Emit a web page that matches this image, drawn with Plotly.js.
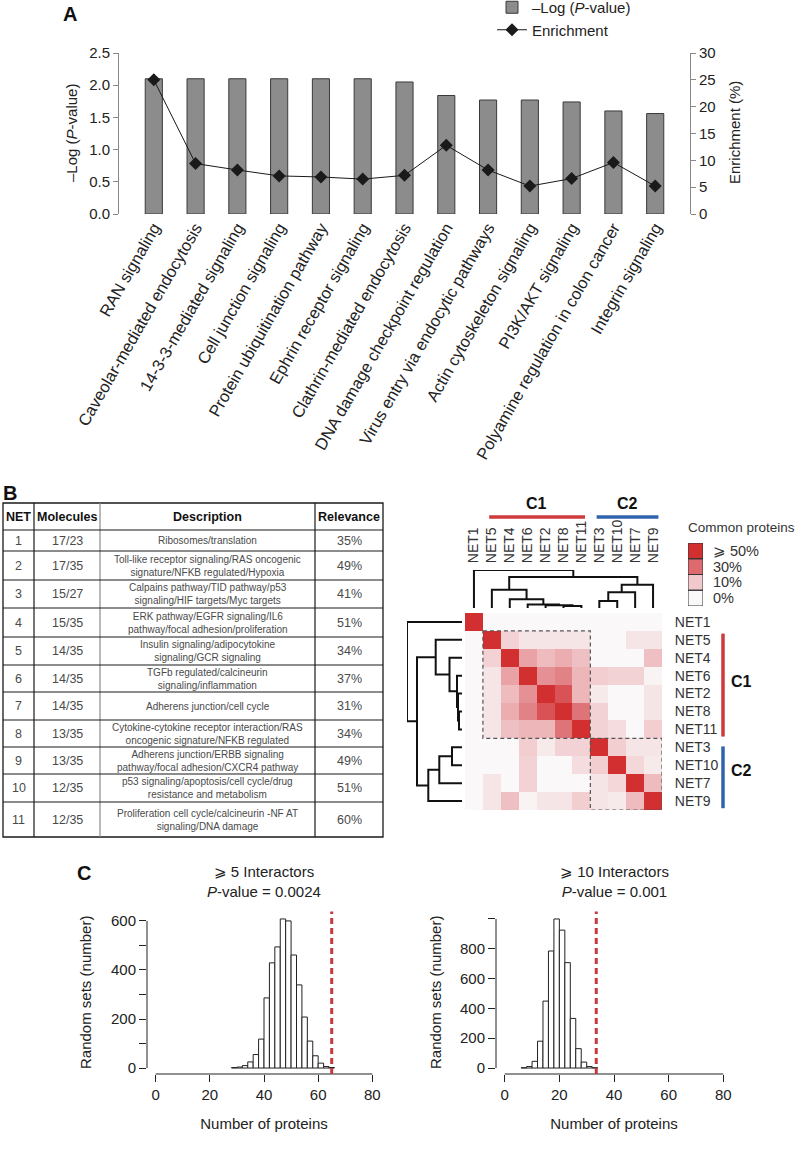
<!DOCTYPE html>
<html><head><meta charset="utf-8">
<script src="https://cdn.plot.ly/plotly-3.0.1.min.js"></script>
<style>html,body{margin:0;padding:0;background:#fff;}#chart{width:798px;height:1152px;}</style>
</head><body><div id="chart"></div>
<script>
// ---------------- Panel A data ----------------
const pathways = ['RAN signaling','Caveolar-mediated endocytosis','14-3-3-mediated signaling','Cell junction signaling','Protein ubiquitination pathway','Ephrin receptor signaling','Clathrin-mediated endocytosis','DNA damage checkpoint regulation','Virus entry via endocytic pathways','Actin cytoskeleton signaling','PI3K/AKT signaling','Polyamine regulation in colon cancer','Integrin signaling'];
const negLogP = [2.1,2.1,2.1,2.1,2.1,2.1,2.05,1.84,1.77,1.77,1.74,1.6,1.56];
const enrichmentPct = [25,9.4,8.2,7.1,6.9,6.5,7.2,12.8,8.2,5.2,6.6,9.6,5.2];

// ---------------- Panel B table ----------------
const tableHeader = ['NET','Molecules','Description','Relevance'];
const netIds = ['1','2','3','4','5','6','7','8','9','10','11'];
const molecules = ['17/23','17/35','15/27','15/35','14/35','14/35','14/35','13/35','13/35','12/35','12/35'];
const descriptions = ['Ribosomes/translation','Toll-like receptor signaling/RAS oncogenic<br>signature/NFKB regulated/Hypoxia','Calpains pathway/TID pathway/p53<br>signaling/HIF targets/Myc targets','ERK pathway/EGFR signaling/IL6<br>pathway/focal adhesion/proliferation','Insulin signaling/adipocytokine<br>signaling/GCR signaling','TGFb regulated/calcineurin<br>signaling/inflammation','Adherens junction/cell cycle','Cytokine-cytokine receptor interaction/RAS<br>oncogenic signature/NFKB regulated','Adherens junction/ERBB signaling<br>pathway/focal adhesion/CXCR4 pathway','p53 signaling/apoptosis/cell cycle/drug<br>resistance and metabolism','Proliferation cell cycle/calcineurin -NF AT<br>signaling/DNA damage'];
const relevance = ['35%','49%','41%','51%','34%','37%','31%','34%','49%','51%','60%'];

// ---------------- Panel B heatmap ----------------
const netOrder = ['NET1','NET5','NET4','NET6','NET2','NET8','NET11','NET3','NET10','NET7','NET9'];
const commonProteins = [
  [100,0,0,0,0,0,0,0,0,0,0],
  [0,100,8,4,4,4,4,0,0,4,4],
  [0,8,100,18,13,16,12,0,0,0,12],
  [0,4,18,100,22,25,14,9,8,8,1],
  [0,4,13,22,100,38,14,3,0,0,4],
  [0,4,16,25,38,100,28,8,0,0,4],
  [0,4,12,14,14,28,100,8,6,0,9],
  [0,0,0,9,3,8,8,100,9,4,4],
  [0,0,0,8,0,0,6,9,100,7,3],
  [0,4,0,8,0,0,0,4,7,100,13],
  [0,4,12,1,4,4,9,4,3,13,100]
];
// dendrogram merges: [child A, child B, height]; '#k' = k-th merge
const dendroMerges = [
  ['NET8','NET11',3],
  ['NET2','#0',4],
  ['NET6','#1',5],
  ['NET4','#2',12.5],
  ['NET5','#3',26.3],
  ['NET3','NET10',10],
  ['#5','NET7',22.7],
  ['#6','NET9',33.7],
  ['#4','#7',45],
  ['NET1','#8',55]
];
const legendLevels = [50,30,10,0];
const legendLabels = ['⩾ 50%','30%','10%','0%'];

// ---------------- Panel C data ----------------
const binWidth = 2;
const binLeft5 = [28,30,32,34,36,38,40,42,44,46,48,50,52,54,56,58,60,62,64];
const count5   = [2,4,10,25,55,118,286,429,494,608,600,461,339,208,110,50,20,6,2];
const observed5 = 65;
const binLeft10 = [6,8,10,12,14,16,18,20,22,24,26,28,30,32];
const count10   = [2,10,45,180,449,785,1000,925,707,333,130,40,10,2];
const observed10 = 33.5;

// ---------------- helpers / layout constants ----------------
const W = 798, H = 1152;
const px = x => x / W;
const py = y => 1 - y / H;
const FONT = 'Liberation Sans, Arial, Helvetica, sans-serif';
const colEdgesPx = [3,34,100,315,383];
const rowEdgesPx = [503,530,551,580,608,637,665,692,720,747,774,802,837];

function dendroSegments(order, merges) {
  const pos = {}, hgt = {};
  order.forEach((n, i) => { pos[n] = i; hgt[n] = 0; });
  const a = [], h = [];
  merges.forEach((m, k) => {
    const [c1, c2, ht] = m;
    a.push(pos[c1], pos[c1], pos[c2], pos[c2], null);
    h.push(hgt[c1], ht, ht, hgt[c2], null);
    pos['#' + k] = (pos[c1] + pos[c2]) / 2;
    hgt['#' + k] = ht;
  });
  return {a, h};
}
const dseg = dendroSegments(netOrder, dendroMerges);
const dMax = Math.max(...dendroMerges.map(m => m[2]));

const traces = [];
// Panel A
traces.push({type:'bar', x:pathways, y:negLogP, name:'–Log (<i>P</i>-value)', xaxis:'x', yaxis:'y',
  marker:{color:'#8c8c8c', line:{color:'#3a3a3a', width:1}}});
traces.push({type:'scatter', mode:'lines+markers', x:pathways, y:enrichmentPct, name:'Enrichment', xaxis:'x', yaxis:'y2',
  line:{color:'#1a1a1a', width:1}, marker:{symbol:'diamond', size:10, color:'#1a1a1a'}});
// heatmap
const cscale = [[0,'#faf8f8'],[0.2,'#f1c9cc'],[0.6,'#dc6a6f'],[1,'#d22f30']];
traces.push({type:'heatmap', x:netOrder, y:netOrder, z:commonProteins, zmin:0, zmax:50,
  colorscale:cscale, showscale:false, xaxis:'x3', yaxis:'y3', hoverinfo:'skip', showlegend:false});
traces.push({type:'scatter', mode:'lines', x:dseg.a, y:dseg.h, xaxis:'x4', yaxis:'y4',
  line:{color:'#111', width:2}, showlegend:false, hoverinfo:'skip'});
traces.push({type:'scatter', mode:'lines', x:dseg.h, y:dseg.a, xaxis:'x5', yaxis:'y5',
  line:{color:'#111', width:2}, showlegend:false, hoverinfo:'skip'});
traces.push({type:'heatmap', x:['k'], y:legendLabels, z:legendLevels.map(v => [v]), zmin:0, zmax:50,
  colorscale:cscale, showscale:false, xaxis:'x6', yaxis:'y6', hoverinfo:'skip', showlegend:false});
// Panel C histograms
traces.push({type:'bar', x:binLeft5.map(b => b + binWidth/2), y:count5, width:binWidth, xaxis:'x7', yaxis:'y7',
  marker:{color:'#fff', line:{color:'#222', width:1}}, showlegend:false});
traces.push({type:'bar', x:binLeft10.map(b => b + binWidth/2), y:count10, width:binWidth, xaxis:'x8', yaxis:'y8',
  marker:{color:'#fff', line:{color:'#222', width:1}}, showlegend:false});

const max5 = Math.max(...count5), max10 = Math.max(...count10);
const tickF = {family:FONT, size:15, color:'#222'};
const heatX = [px(465), px(662)], heatY = [py(810), py(613)];
const histY = [py(1074), py(913)];

const layout = {
  width:W, height:H, margin:{l:0,r:0,t:0,b:0,autoexpand:false}, paper_bgcolor:'#fff', plot_bgcolor:'rgba(0,0,0,0)',
  font:{family:FONT, color:'#222'}, bargap:0.59, showlegend:true,
  legend:{x:px(492), y:py(-9), xanchor:'left', yanchor:'top', font:{family:FONT, size:15, color:'#222'},
    bgcolor:'rgba(0,0,0,0)', itemwidth:30, tracegroupgap:0},
  xaxis:{domain:[px(119), px(690)], anchor:'y', tickangle:-60, tickfont:{family:FONT, size:16.5, color:'#222'},
    showline:false, ticks:'', showgrid:false, zeroline:false},
  yaxis:{domain:[py(214), py(53)], range:[0,2.5], dtick:0.5, tickformat:'.1f', ticks:'outside', ticklen:5,
    tickcolor:'#888', showline:true, linecolor:'#888', showgrid:false, zeroline:false, tickfont:tickF},
  yaxis2:{overlaying:'y', side:'right', anchor:'x', range:[0,30], dtick:5, ticks:'outside', ticklen:5,
    tickcolor:'#888', showline:true, linecolor:'#888', showgrid:false, zeroline:false, tickfont:tickF},
  xaxis3:{domain:heatX, anchor:'y3', showticklabels:false, ticks:'', showgrid:false, zeroline:false, range:[-0.5,10.5]},
  yaxis3:{domain:heatY, anchor:'x3', side:'right', range:[10.5,-0.5], ticks:'outside', ticklen:9, tickcolor:'rgba(0,0,0,0)',
    tickfont:{family:FONT, size:14, color:'#333'}, showgrid:false, zeroline:false},
  xaxis4:{domain:heatX, anchor:'y4', range:[-0.5,10.5], side:'top', tickmode:'array', tickvals:netOrder.map((n,i)=>i),
    ticktext:netOrder, tickangle:-90, ticks:'outside', ticklen:3, tickcolor:'rgba(0,0,0,0)',
    tickfont:{family:FONT, size:14, color:'#333'}, showgrid:false, zeroline:false, showline:false},
  yaxis4:{domain:[py(608), py(570)], anchor:'x4', range:[0, dMax], visible:false},
  xaxis5:{domain:[px(407), px(462)], anchor:'y5', range:[dMax, 0], visible:false},
  yaxis5:{domain:heatY, anchor:'x5', range:[10.5,-0.5], visible:false},
  xaxis6:{domain:[px(688), px(703)], anchor:'y6', type:'category', visible:false, range:[-0.5,0.5]},
  yaxis6:{domain:[py(606), py(543)], anchor:'x6', type:'category', side:'right', range:[3.5,-0.5],
    tickmode:'array', tickvals:legendLabels, ticktext:legendLabels, ticks:'outside', ticklen:6,
    tickcolor:'rgba(0,0,0,0)', tickfont:{family:FONT, size:14.5, color:'#333'}, showgrid:false, zeroline:false},
  xaxis7:{domain:[px(147), px(381)], anchor:'y7', range:[-3.2,83.2], tickvals:[0,20,40,60,80], ticks:'outside', ticklen:7,
    tickcolor:'#222', showline:false, showgrid:false, zeroline:false, tickfont:tickF,
    title:{text:'Number of proteins', font:{family:FONT, size:15, color:'#222'}}},
  yaxis7:{domain:histY, anchor:'x7', range:[-0.04*max5, 1.04*max5], tickvals:[0,100,200,300,400,500,600],
    ticktext:['0','','200','','400','','600'], ticks:'outside', ticklen:7, tickcolor:'#222', showline:false,
    showgrid:false, zeroline:false, tickfont:tickF},
  xaxis8:{domain:[px(496), px(732)], anchor:'y8', range:[-3.2,83.2], tickvals:[0,20,40,60,80], ticks:'outside', ticklen:7,
    tickcolor:'#222', showline:false, showgrid:false, zeroline:false, tickfont:tickF,
    title:{text:'Number of proteins', font:{family:FONT, size:15, color:'#222'}}},
  yaxis8:{domain:histY, anchor:'x8', range:[-0.04*max10, 1.04*max10], tickvals:[0,200,400,600,800,1000],
    ticktext:['0','200','400','600','800',''], ticks:'outside', ticklen:7, tickcolor:'#222', showline:false,
    showgrid:false, zeroline:false, tickfont:tickF},
  shapes:[], annotations:[]
};

const ann = (text, x, y, opts) => Object.assign({text, x, y, xref:'paper', yref:'paper', showarrow:false,
  xanchor:'center', yanchor:'middle', font:{family:FONT, size:15, color:'#222'}}, opts || {});

// ---------- table (grid + text) ----------
const tTop = rowEdgesPx[0], tBot = rowEdgesPx[rowEdgesPx.length-1];
layout.shapes.push({type:'rect', xref:'paper', yref:'paper', x0:px(colEdgesPx[0]), x1:px(colEdgesPx[4]), y0:py(tBot), y1:py(tTop), line:{color:'#1a1a1a', width:1.3}});
colEdgesPx.slice(1, -1).forEach((c, i) => layout.shapes.push({type:'line', xref:'paper', yref:'paper', x0:px(c), x1:px(c), y0:py(tBot), y1:py(tTop), line:{color: i === 1 ? '#8a8a8a' : '#1a1a1a', width:1.2}}));
rowEdgesPx.slice(1, -1).forEach(r => layout.shapes.push({type:'line', xref:'paper', yref:'paper', x0:px(colEdgesPx[0]), x1:px(colEdgesPx[4]), y0:py(r), y1:py(r), line:{color:'#1a1a1a', width:1.1}}));
const colCenter = i => px((colEdgesPx[i] + colEdgesPx[i+1]) / 2);
const rowCenter = r => py((rowEdgesPx[r] + rowEdgesPx[r+1]) / 2);
tableHeader.forEach((t, i) => layout.annotations.push(ann('<b>' + t + '</b>', colCenter(i), rowCenter(0), {font:{family:FONT, size:12.5, color:'#111'}})));
const tableCols = [netIds, molecules, descriptions, relevance];
const tableFont = [12.5, 12.5, 10, 12.5];
tableCols.forEach((col, ci) => col.forEach((v, ri) => layout.annotations.push(ann(v, colCenter(ci), rowCenter(ri+1), {font:{family:FONT, size:tableFont[ci], color:'#4a4a4a'}}))));

// dashed cluster boxes
layout.shapes.push({type:'rect', xref:'x3', yref:'y3', x0:0.5, x1:6.5, y0:0.5, y1:6.5, line:{color:'#555', width:1.2, dash:'4px,3px'}});
layout.shapes.push({type:'rect', xref:'x3', yref:'y3', x0:6.5, x1:10.5, y0:6.5, y1:10.5, line:{color:'#555', width:1.2, dash:'4px,3px'}});
// cluster bars
const red = '#cf3a3c', blue = '#2f63ad';
layout.shapes.push({type:'line', xref:'x3', yref:'paper', x0:0.85, x1:6.2, y0:py(517), y1:py(517), line:{color:red, width:3.5}});
layout.shapes.push({type:'line', xref:'x3', yref:'paper', x0:6.85, x1:10.3, y0:py(517), y1:py(517), line:{color:blue, width:3.5}});
layout.shapes.push({type:'line', xref:'paper', yref:'y3', x0:px(723), x1:px(723), y0:0.65, y1:6.4, line:{color:red, width:3.5}});
layout.shapes.push({type:'line', xref:'paper', yref:'y3', x0:px(723), x1:px(723), y0:6.95, y1:10.4, line:{color:blue, width:3.5}});
// legend box outlines
legendLevels.forEach((v, i) => layout.shapes.push({type:'rect', xref:'x6', yref:'y6', x0:-0.5, x1:0.5, y0:i-0.5, y1:i+0.5, line:{color:'#333', width:1}}));
// histogram axis lines (R style) and observed values
[['x7','y7',600],['x8','y8',1000]].forEach(([xa, ya, top]) => {
  layout.shapes.push({type:'line', xref:xa, yref:ya + ' domain', x0:0, x1:80, y0:0, y1:0, line:{color:'#222', width:1}});
  layout.shapes.push({type:'line', xref:xa + ' domain', yref:ya, x0:0, x1:0, y0:0, y1:top, line:{color:'#222', width:1}});
});
layout.shapes.push({type:'line', xref:'x7', yref:'y7 domain', x0:observed5, x1:observed5, y0:0, y1:1.01, line:{color:'#c9383b', width:3, dash:'6px,4px'}});
layout.shapes.push({type:'line', xref:'x8', yref:'y8 domain', x0:observed10, x1:observed10, y0:0, y1:1.01, line:{color:'#c9383b', width:3, dash:'6px,4px'}});

// annotations
layout.annotations.push(ann('<b>A</b>', px(70), py(14), {font:{family:FONT, size:20, color:'#111'}}));
layout.annotations.push(ann('<b>B</b>', px(10), py(493), {font:{family:FONT, size:20, color:'#111'}}));
layout.annotations.push(ann('<b>C</b>', px(84), py(873), {font:{family:FONT, size:20, color:'#111'}}));
layout.annotations.push(ann('–Log (<i>P</i>-value)', px(72), py(133), {textangle:-90}));
layout.annotations.push(ann('Enrichment (%)', px(735), py(133), {textangle:-90}));
layout.annotations.push(ann('<b>C1</b>', 3.5, py(503), {xref:'x3', font:{family:FONT, size:16, color:'#111'}}));
layout.annotations.push(ann('<b>C2</b>', 8.55, py(503), {xref:'x3', font:{family:FONT, size:16, color:'#111'}}));
layout.annotations.push(ann('<b>C1</b>', px(729), 3.3, {yref:'y3', xanchor:'left', font:{family:FONT, size:16, color:'#111'}}));
layout.annotations.push(ann('<b>C2</b>', px(729), 8.3, {yref:'y3', xanchor:'left', font:{family:FONT, size:16, color:'#111'}}));
layout.annotations.push(ann('Common proteins', px(686), py(528), {xanchor:'left', font:{family:FONT, size:13.5, color:'#333'}}));
layout.annotations.push(ann('⩾ 5 Interactors<br><i>P</i>-value = 0.0024', px(264), py(881), {font:{family:FONT, size:15, color:'#222'}}));
layout.annotations.push(ann('⩾ 10 Interactors<br><i>P</i>-value = 0.001', px(614), py(881), {font:{family:FONT, size:15, color:'#222'}}));
layout.annotations.push(ann('Random sets (number)', px(85), py(993), {textangle:-90}));
layout.annotations.push(ann('Random sets (number)', px(435), py(993), {textangle:-90}));

Plotly.newPlot('chart', traces, layout, {staticPlot:true});
</script></body></html>
